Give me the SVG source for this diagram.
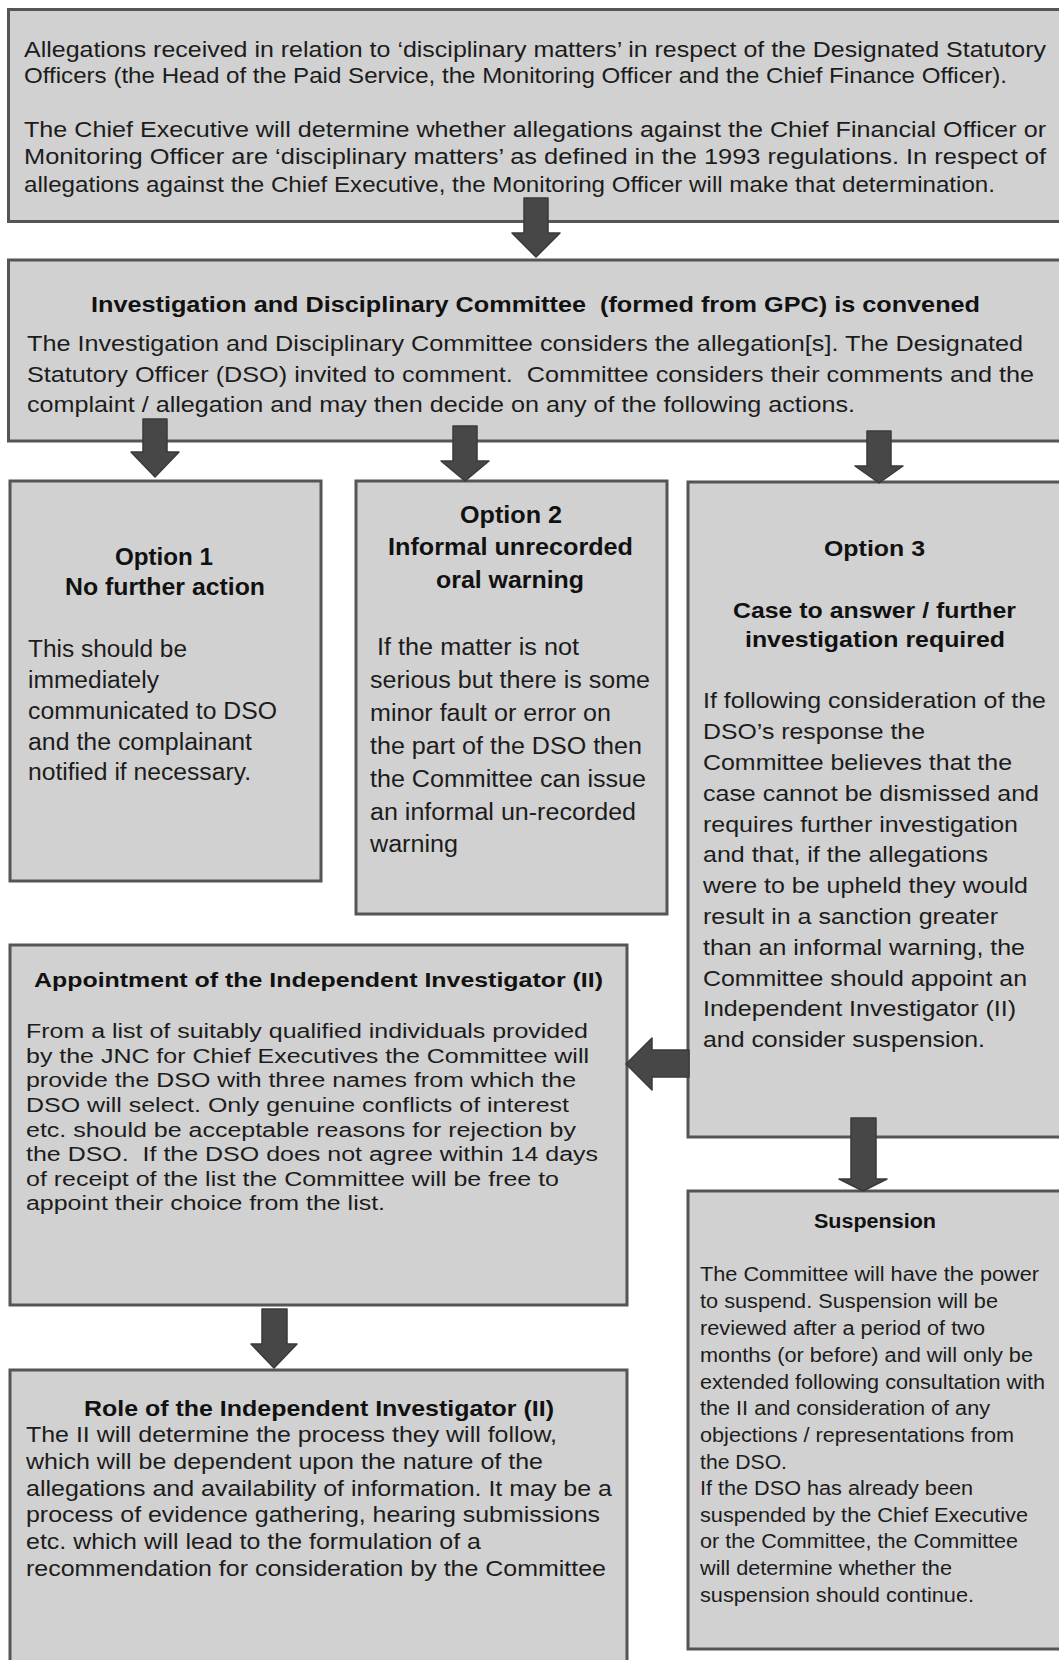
<svg xmlns="http://www.w3.org/2000/svg" width="1059" height="1660" viewBox="0 0 1059 1660">
<style>
.box{fill:#d1d1d1;stroke:#555555;stroke-width:3}
.t{font-family:"Liberation Sans",Arial,sans-serif;fill:#1c1c1c;white-space:pre}
.b{font-weight:bold;fill:#111111}
.arr{fill:#474747;stroke:#3a3a3a;stroke-width:1.5;stroke-linejoin:round}
</style>
<rect width="1059" height="1660" fill="#ffffff"/>

<g id="n-top">
<rect class="box" x="8.5" y="9.5" width="1070" height="212"/>
<g class="t" font-size="21.5" lengthAdjust="spacingAndGlyphs">
<text x="24" y="56.5" textLength="1022" lengthAdjust="spacingAndGlyphs">Allegations received in relation to ‘disciplinary matters’ in respect of the Designated Statutory</text>
<text x="24" y="83" textLength="983" lengthAdjust="spacingAndGlyphs">Officers (the Head of the Paid Service, the Monitoring Officer and the Chief Finance Officer).</text>
<text x="24" y="137" textLength="1022" lengthAdjust="spacingAndGlyphs">The Chief Executive will determine whether allegations against the Chief Financial Officer or</text>
<text x="24" y="164" textLength="1022" lengthAdjust="spacingAndGlyphs">Monitoring Officer are ‘disciplinary matters’ as defined in the 1993 regulations. In respect of</text>
<text x="24" y="191.5" textLength="971" lengthAdjust="spacingAndGlyphs">allegations against the Chief Executive, the Monitoring Officer will make that determination.</text>
</g>
</g>

<g id="n-committee">
<rect class="box" x="8.5" y="260" width="1070" height="181"/>
<g class="t" font-size="22">
<text class="b" x="91" y="312" textLength="889" lengthAdjust="spacingAndGlyphs" xml:space="preserve">Investigation and Disciplinary Committee  (formed from GPC) is convened</text>
<text x="27" y="351" textLength="996" lengthAdjust="spacingAndGlyphs">The Investigation and Disciplinary Committee considers the allegation[s]. The Designated</text>
<text x="27" y="382" textLength="1007" lengthAdjust="spacingAndGlyphs" xml:space="preserve">Statutory Officer (DSO) invited to comment.  Committee considers their comments and the</text>
<text x="27" y="412" textLength="828" lengthAdjust="spacingAndGlyphs">complaint / allegation and may then decide on any of the following actions.</text>
</g>
</g>

<g id="n-opt1">
<rect class="box" x="10" y="481" width="311" height="400"/>
<g class="t" font-size="23">
<text class="b" x="115" y="565" textLength="98" lengthAdjust="spacingAndGlyphs">Option 1</text>
<text class="b" x="65" y="595" textLength="200" lengthAdjust="spacingAndGlyphs">No further action</text>
<text x="28" y="657" textLength="159" lengthAdjust="spacingAndGlyphs">This should be</text>
<text x="28" y="688" textLength="131" lengthAdjust="spacingAndGlyphs">immediately</text>
<text x="28" y="719" textLength="249" lengthAdjust="spacingAndGlyphs">communicated to DSO</text>
<text x="28" y="750" textLength="224" lengthAdjust="spacingAndGlyphs">and the complainant</text>
<text x="28" y="780" textLength="223" lengthAdjust="spacingAndGlyphs">notified if necessary.</text>
</g>
</g>

<g id="n-opt2">
<rect class="box" x="356" y="481" width="311" height="433"/>
<g class="t" font-size="23">
<text class="b" x="460" y="523" textLength="102" lengthAdjust="spacingAndGlyphs">Option 2</text>
<text class="b" x="388" y="555" textLength="245" lengthAdjust="spacingAndGlyphs">Informal unrecorded</text>
<text class="b" x="436" y="588" textLength="148" lengthAdjust="spacingAndGlyphs">oral warning</text>
<text x="377" y="655" textLength="202" lengthAdjust="spacingAndGlyphs">If the matter is not</text>
<text x="370" y="688" textLength="280" lengthAdjust="spacingAndGlyphs">serious but there is some</text>
<text x="370" y="721" textLength="241" lengthAdjust="spacingAndGlyphs">minor fault or error on</text>
<text x="370" y="754" textLength="272" lengthAdjust="spacingAndGlyphs">the part of the DSO then</text>
<text x="370" y="787" textLength="276" lengthAdjust="spacingAndGlyphs">the Committee can issue</text>
<text x="370" y="820" textLength="266" lengthAdjust="spacingAndGlyphs">an informal un-recorded</text>
<text x="370" y="852" textLength="88" lengthAdjust="spacingAndGlyphs">warning</text>
</g>
</g>

<g id="n-opt3">
<rect class="box" x="688" y="482" width="390" height="655"/>
<g class="t" font-size="22.5">
<text class="b" x="824" y="556" textLength="101" lengthAdjust="spacingAndGlyphs">Option 3</text>
<text class="b" x="733" y="618" textLength="283" lengthAdjust="spacingAndGlyphs">Case to answer / further</text>
<text class="b" x="745" y="647" textLength="260" lengthAdjust="spacingAndGlyphs">investigation required</text>
<text x="703" y="708" textLength="343" lengthAdjust="spacingAndGlyphs">If following consideration of the</text>
<text x="703" y="739" textLength="222" lengthAdjust="spacingAndGlyphs">DSO’s response the</text>
<text x="703" y="770" textLength="309" lengthAdjust="spacingAndGlyphs">Committee believes that the</text>
<text x="703" y="801" textLength="336" lengthAdjust="spacingAndGlyphs">case cannot be dismissed and</text>
<text x="703" y="831.5" textLength="315" lengthAdjust="spacingAndGlyphs">requires further investigation</text>
<text x="703" y="862" textLength="285" lengthAdjust="spacingAndGlyphs">and that, if the allegations</text>
<text x="703" y="893" textLength="325" lengthAdjust="spacingAndGlyphs">were to be upheld they would</text>
<text x="703" y="924" textLength="295" lengthAdjust="spacingAndGlyphs">result in a sanction greater</text>
<text x="703" y="955" textLength="322" lengthAdjust="spacingAndGlyphs">than an informal warning, the</text>
<text x="703" y="986" textLength="324" lengthAdjust="spacingAndGlyphs">Committee should appoint an</text>
<text x="703" y="1016" textLength="313" lengthAdjust="spacingAndGlyphs">Independent Investigator (II)</text>
<text x="703" y="1047" textLength="282" lengthAdjust="spacingAndGlyphs">and consider suspension.</text>
</g>
</g>

<g id="n-appoint">
<rect class="box" x="10" y="945" width="617" height="360"/>
<g class="t" font-size="20">
<text class="b" x="34" y="987" textLength="569" lengthAdjust="spacingAndGlyphs">Appointment of the Independent Investigator (II)</text>
<text x="26" y="1038" textLength="562" lengthAdjust="spacingAndGlyphs">From a list of suitably qualified individuals provided</text>
<text x="26" y="1062.5" textLength="563" lengthAdjust="spacingAndGlyphs">by the JNC for Chief Executives the Committee will</text>
<text x="26" y="1087" textLength="550" lengthAdjust="spacingAndGlyphs">provide the DSO with three names from which the</text>
<text x="26" y="1112" textLength="543" lengthAdjust="spacingAndGlyphs">DSO will select. Only genuine conflicts of interest</text>
<text x="26" y="1136.5" textLength="550" lengthAdjust="spacingAndGlyphs">etc. should be acceptable reasons for rejection by</text>
<text x="26" y="1161" textLength="572" lengthAdjust="spacingAndGlyphs" xml:space="preserve">the DSO.  If the DSO does not agree within 14 days</text>
<text x="26" y="1185.5" textLength="533" lengthAdjust="spacingAndGlyphs">of receipt of the list the Committee will be free to</text>
<text x="26" y="1210" textLength="359" lengthAdjust="spacingAndGlyphs">appoint their choice from the list.</text>
</g>
</g>

<g id="n-suspend">
<rect class="box" x="688" y="1191" width="390" height="458"/>
<g class="t" font-size="20">
<text class="b" x="814" y="1228" textLength="122" lengthAdjust="spacingAndGlyphs">Suspension</text>
<text x="700" y="1281" textLength="339" lengthAdjust="spacingAndGlyphs">The Committee will have the power</text>
<text x="700" y="1308" textLength="298" lengthAdjust="spacingAndGlyphs">to suspend. Suspension will be</text>
<text x="700" y="1335" textLength="285" lengthAdjust="spacingAndGlyphs">reviewed after a period of two</text>
<text x="700" y="1361.5" textLength="333" lengthAdjust="spacingAndGlyphs">months (or before) and will only be</text>
<text x="700" y="1388.5" textLength="345" lengthAdjust="spacingAndGlyphs">extended following consultation with</text>
<text x="700" y="1415" textLength="290" lengthAdjust="spacingAndGlyphs">the II and consideration of any</text>
<text x="700" y="1441.5" textLength="314" lengthAdjust="spacingAndGlyphs">objections / representations from</text>
<text x="700" y="1468.5" textLength="87" lengthAdjust="spacingAndGlyphs">the DSO.</text>
<text x="700" y="1495" textLength="273" lengthAdjust="spacingAndGlyphs">If the DSO has already been</text>
<text x="700" y="1521.5" textLength="328" lengthAdjust="spacingAndGlyphs">suspended by the Chief Executive</text>
<text x="700" y="1548" textLength="318" lengthAdjust="spacingAndGlyphs">or the Committee, the Committee</text>
<text x="700" y="1575" textLength="252" lengthAdjust="spacingAndGlyphs">will determine whether the</text>
<text x="700" y="1601.5" textLength="274" lengthAdjust="spacingAndGlyphs">suspension should continue.</text>
</g>
</g>

<g id="n-role">
<rect class="box" x="10" y="1370" width="617" height="320"/>
<g class="t" font-size="21.5">
<text class="b" x="84" y="1416" textLength="470" lengthAdjust="spacingAndGlyphs">Role of the Independent Investigator (II)</text>
<text x="26" y="1442" textLength="531" lengthAdjust="spacingAndGlyphs">The II will determine the process they will follow,</text>
<text x="26" y="1469" textLength="517" lengthAdjust="spacingAndGlyphs">which will be dependent upon the nature of the</text>
<text x="26" y="1496" textLength="586" lengthAdjust="spacingAndGlyphs">allegations and availability of information. It may be a</text>
<text x="26" y="1522" textLength="574" lengthAdjust="spacingAndGlyphs">process of evidence gathering, hearing submissions</text>
<text x="26" y="1549" textLength="455" lengthAdjust="spacingAndGlyphs">etc. which will lead to the formulation of a</text>
<text x="26" y="1576" textLength="580" lengthAdjust="spacingAndGlyphs">recommendation for consideration by the Committee</text>
</g>
</g>

<g id="connectors">
<polygon class="arr" points="524,198 548,198 548,233 560,233 536,257 512,233 524,233"/>
<polygon class="arr" points="143,419 167,419 167,452 179,452 155,477 131,452 143,452"/>
<polygon class="arr" points="453,426 477,426 477,461 489,461 465,481 441,461 453,461"/>
<polygon class="arr" points="867,431 891,431 891,466 903,466 879,483 855,466 867,466"/>
<polygon class="arr" points="689,1050 689,1077 652,1077 652,1090 626,1064 652,1038 652,1050"/>
<polygon class="arr" points="851,1118 876,1118 876,1179 887,1179 863,1191 839,1179 851,1179"/>
<polygon class="arr" points="262,1309 287,1309 287,1344 297,1344 274,1368 251,1344 262,1344"/>
</g>
</svg>
